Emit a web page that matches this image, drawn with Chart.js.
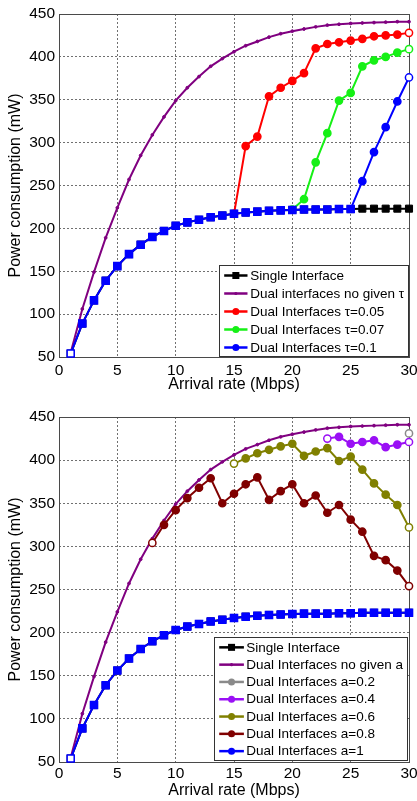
<!DOCTYPE html>
<html>
<head>
<meta charset="utf-8">
<script src="https://cdn.jsdelivr.net/npm/chart.js@4.4.1/dist/chart.umd.min.js"></script>
<style>
  body { margin: 0; background: #fff; }
  #wrap { position: relative; width: 417px; height: 801px; }
  canvas { position: absolute; left: 0; }
</style>
</head>
<body>
<div id="wrap">
  <canvas id="topChart" width="417" height="400" style="top:0"></canvas>
  <canvas id="bottomChart" width="417" height="401" style="top:400px"></canvas>
</div>
<script>
// arrival rate (Mbps)
const rates = [1,2,3,4,5,6,7,8,9,10,11,12,13,14,15,16,17,18,19,20,21,22,23,24,25,26,27,28,29,30];
const xTicks = [0, 5, 10, 15, 20, 25, 30];
const yTicks = [50, 100, 150, 200, 250, 300, 350, 400, 450];

// power consumption (mW)
const singleIface = [54,89,116,139,156,170,181,190,197,203,207,210,213,215,217,218.5,219.5,220.5,221,221.5,222,222,222,222.5,222.5,223,223,223,223,223];
const dualNoGiven = [55,106,149,189,224,257,285,309,330,349,364,377,389,398,406,413,418,423,427,430,432.5,435,437,438,439,439.5,440,440.5,441,441];

// top panel: tau
const tau005 = [null,null,null,null,null,null,null,null,null,null,null,null,null,null,217,296,307,354,364,372,381,410,415,417,419,421,424,425,426,428];
const tau007 = [null,null,null,null,null,null,null,null,null,null,null,null,null,null,null,null,null,null,null,222,234,277,311,349,358,389,396,400,405,409];
const tau01  = [54,89,116,139,156,170,181,190,197,203,207,210,213,215,217,218.5,219.5,220.5,221,221.5,222,222,222,222.5,222.5,255,289,318,348,376];

// bottom panel: a
const a02 = [null,null,null,null,null,null,null,null,null,null,null,null,null,null,null,null,null,null,null,null,null,null,null,null,null,null,null,null,null,431];
const a04 = [null,null,null,null,null,null,null,null,null,null,null,null,null,null,null,null,null,null,null,null,null,null,425,427,419,421,423,415,418,421];
const a06 = [null,null,null,null,null,null,null,null,null,null,null,null,null,null,396,402,408,412,416,419,405,410,414,399,404,389,373,360,348,322];
const a08 = [null,null,null,null,null,null,null,304,325,342,356,368,379,350,361,372,380,354,364,372,350,359,339,348,331,317,289,284,272,254];
const a1  = [54,89,116,139,156,170,181,190,197,203,207,210,213,215,217,218.5,219.5,220.5,221,221.5,222,222,222,222.5,222.5,223,223,223,223,223];

const FONT = '"Liberation Sans", Arial, sans-serif';

// open (white) marker at the first and last drawn point of a series
function openEnds(values, color, lastOpen) {
  const idx = values.map((v, i) => v === null ? -1 : i).filter(i => i >= 0);
  const first = idx[0], last = idx[idx.length - 1];
  return values.map((v, i) => (i === first || (lastOpen !== false && i === last)) ? '#ffffff' : color);
}

function series(label, values, color, opts) {
  return Object.assign({
    label: label,
    data: values,
    borderColor: color,
    backgroundColor: color,
    pointBorderColor: color,
    pointBackgroundColor: openEnds(values, color),
    borderWidth: 2,
    pointRadius: 3.6,
    pointBorderWidth: 1.5,
    pointStyle: 'circle',
    marker: 'circle',
    clip: false,
    spanGaps: false
  }, opts || {});
}

const framePlugin = {
  id: 'frame',
  beforeDatasetsDraw(chart) {
    const { ctx, chartArea: a } = chart;
    const al = v => Math.round(v - 0.5) + 0.5;
    ctx.save();
    ctx.strokeStyle = '#4a4a4a';
    ctx.lineWidth = 1;
    ctx.strokeRect(al(a.left), al(a.top), al(a.right) - al(a.left), al(a.bottom) - al(a.top));
    ctx.restore();
  }
};

const boxLegend = {
  id: 'boxLegend',
  afterDatasetsDraw(chart, args, o) {
    const { ctx, chartArea: a } = chart;
    const items = chart.data.datasets.filter(d => !d.noLegend);
    ctx.save();
    ctx.font = o.fontSize + 'px ' + FONT;
    const textW = Math.max(...items.map(d => ctx.measureText(d.label).width));
    const w = o.padL + o.sampleW + o.gap + textW + o.padR;
    const h = items.length * o.rowH + o.padV * 2;
    const right = Math.round(a.right - o.inset) + 0.5;
    const bottom = Math.round(a.bottom - o.inset) + 0.5;
    const left = Math.round(right - w) + 0.5;
    const top = Math.round(bottom - h) + 0.5;
    ctx.fillStyle = '#ffffff';
    ctx.fillRect(left, top, right - left, bottom - top);
    ctx.strokeStyle = '#333333';
    ctx.lineWidth = 1;
    ctx.strokeRect(left, top, right - left, bottom - top);
    items.forEach((d, i) => {
      const cy = top + o.padV + o.rowH * (i + 0.5);
      const x0 = left + o.padL, x1 = x0 + o.sampleW, cx = (x0 + x1) / 2;
      ctx.strokeStyle = d.borderColor;
      ctx.lineWidth = 2.5;
      ctx.beginPath();
      ctx.moveTo(x0, cy);
      ctx.lineTo(x1, cy);
      ctx.stroke();
      ctx.fillStyle = d.borderColor;
      if (d.marker === 'rect') {
        ctx.fillRect(cx - 3.5, cy - 3.5, 7, 7);
      } else if (d.marker === 'dot') {
        ctx.beginPath(); ctx.arc(cx, cy, 1.6, 0, Math.PI * 2); ctx.fill();
      } else {
        ctx.beginPath(); ctx.arc(cx, cy, 3.5, 0, Math.PI * 2); ctx.fill();
      }
      ctx.fillStyle = '#000000';
      ctx.textAlign = 'left';
      ctx.textBaseline = 'middle';
      ctx.fillText(d.label, x1 + o.gap, cy + 0.5);
    });
    ctx.restore();
  }
};

function makeOptions(p) {
  return {
    responsive: false,
    animation: false,
    events: [],
    layout: { padding: { left: 0, right: 8, top: p.top, bottom: 0 } },
    plugins: {
      legend: { display: false },
      tooltip: { enabled: false },
      boxLegend: p.legend
    },
    scales: {
      x: {
        type: 'linear',
        min: 0, max: 30,
        afterBuildTicks: s => { s.ticks = xTicks.map(v => ({ value: v })); },
        afterFit: s => { s.height = p.xHeight; s.paddingLeft = 0; s.paddingRight = 0; },
        grid: { color: '#707070', lineWidth: 1, drawTicks: false },
        border: { display: false, dash: [2, 2] },
        ticks: { color: '#000', padding: p.xTickPad, maxRotation: 0, font: { family: FONT, size: 15.5 } },
        title: { display: true, text: 'Arrival rate (Mbps)', color: '#000',
                 padding: { top: 0, bottom: p.xTitlePad }, font: { family: FONT, size: 16 } }
      },
      y: {
        min: 50, max: 450,
        afterBuildTicks: s => { s.ticks = yTicks.map(v => ({ value: v })); },
        afterFit: s => { s.width = 59; s.paddingTop = 0; s.paddingBottom = 0; },
        grid: { color: '#707070', lineWidth: 1, drawTicks: false },
        border: { display: false, dash: [2, 2] },
        ticks: { color: '#000', padding: 4, font: { family: FONT, size: 15.5 } },
        title: { display: true, text: 'Power consumption (mW)', color: '#000',
                 padding: { top: 6, bottom: 0 }, font: { family: FONT, size: 16 } }
      }
    }
  };
}

// ---------- top panel ----------
new Chart(document.getElementById('topChart').getContext('2d'), {
  type: 'line',
  data: {
    labels: rates,
    datasets: [
      series('Single Interface', singleIface, '#000000',
        { pointStyle: 'rect', marker: 'rect', pointRadius: 5, pointBorderWidth: 1,
          pointBackgroundColor: '#000000', order: 4 }),
      series('Dual interfaces no given \u03c4', dualNoGiven, '#800080',
        { pointRadius: 1.4, pointBorderWidth: 1, marker: 'dot',
          pointBackgroundColor: '#800080', order: 3 }),
      series('Dual Interfaces \u03c4=0.05', tau005, '#ff0000', { order: 2 }),
      series('Dual Interfaces \u03c4=0.07', tau007, '#16f016', { order: 1 }),
      series('Dual Interfaces \u03c4=0.1', tau01, '#0000ff', {
        order: 0,
        pointStyle: tau01.map((v, i) => i < 25 ? 'rect' : 'circle'),
        pointRadius: tau01.map((v, i) => i < 25 ? 5 : 3.6)
      })
    ]
  },
  options: makeOptions({
    top: 14, xHeight: 43, xTickPad: 4, xTitlePad: 5.4,
    legend: { fontSize: 13.5, rowH: 18, padV: 1, padL: 4.7, sampleW: 23.3, gap: 2.7, padR: 4.7, inset: 1 }
  }),
  plugins: [framePlugin, boxLegend]
});

// ---------- bottom panel ----------
new Chart(document.getElementById('bottomChart').getContext('2d'), {
  type: 'line',
  data: {
    labels: rates,
    datasets: [
      series('Single Interface', singleIface, '#000000',
        { pointStyle: 'rect', marker: 'rect', pointRadius: 5, pointBorderWidth: 1,
          pointBackgroundColor: '#000000', order: 6 }),
      series('Dual Interfaces no given a', dualNoGiven, '#800080',
        { pointRadius: 1.4, pointBorderWidth: 1, marker: 'dot',
          pointBackgroundColor: '#800080', order: 5 }),
      series('Dual Interfaces a=0.2', a02, '#8a8a8a', { order: 4 }),
      series('Dual Interfaces a=0.4', a04, '#9a10f5', { order: 3 }),
      series('Dual Interfaces a=0.6', a06, '#808000', { order: 2 }),
      series('Dual Interfaces a=0.8', a08, '#800000', { order: 1 }),
      series('Dual Interfaces a=1', a1, '#0000ff', {
        order: 0, pointStyle: 'rect', pointRadius: 5, pointBorderWidth: 1.5,
        pointBackgroundColor: openEnds(a1, '#0000ff', false)
      })
    ]
  },
  options: makeOptions({
    top: 17, xHeight: 39, xTickPad: 2, xTitlePad: 0.7,
    legend: { fontSize: 13.5, rowH: 17.3, padV: 1.2, padL: 4.7, sampleW: 24.7, gap: 2.3, padR: 5, inset: 2 }
  }),
  plugins: [framePlugin, boxLegend]
});
</script>
</body>
</html>
